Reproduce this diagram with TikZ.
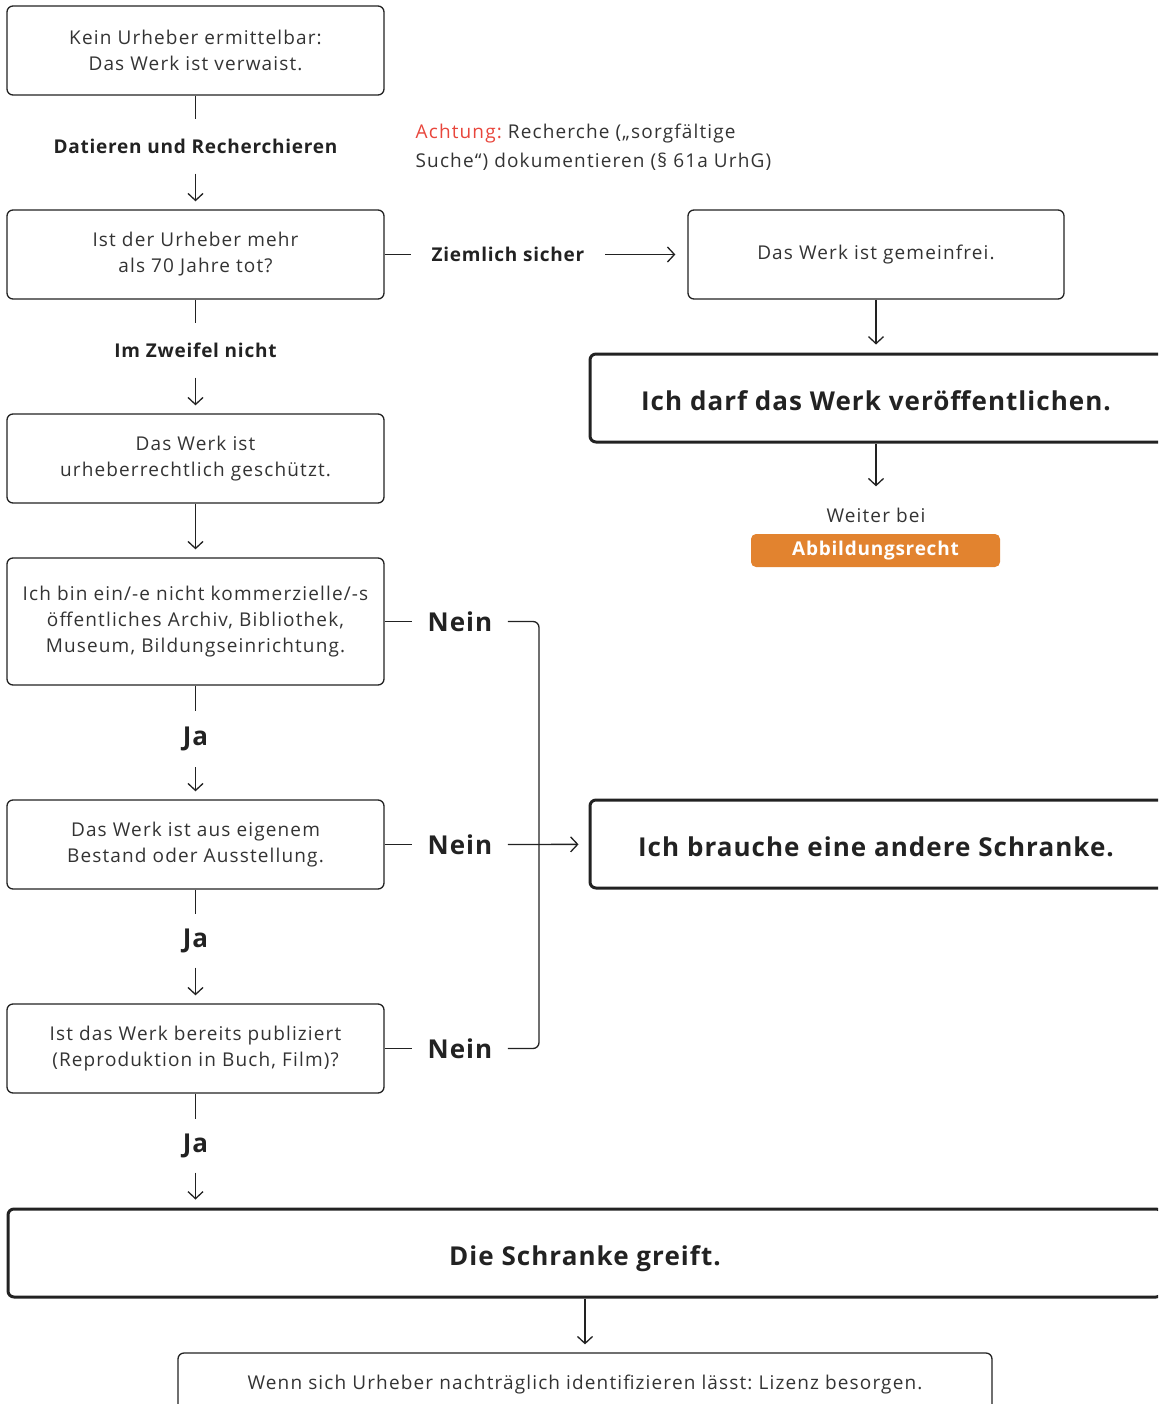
\documentclass[tikz,border=0pt]{standalone}
\usepackage{fontspec}
\setmainfont{Open Sans}[LetterSpace=6, BoldFeatures={LetterSpace=4}]
\frenchspacing
\usetikzlibrary{positioning,arrows.meta}
\definecolor{ink}{HTML}{222222}
\definecolor{txt}{HTML}{333333}
\definecolor{warn}{HTML}{E8463C}
\definecolor{btn}{HTML}{E2832F}
\begin{document}
\begin{tikzpicture}[x=1pt, y=-1pt, line width=1.3pt, draw=ink,
BoxStyle/.style={draw=ink, rounded corners=6pt, minimum width=377pt,
                minimum height=89pt, align=center, text=txt, inner sep=0pt,
                font=\fontsize{19}{26}\selectfont},
BigStyle/.style={draw=ink, rounded corners=6pt, line width=3pt,
                minimum height=88pt, text=ink, inner sep=0pt,
                text height=24pt, text depth=0pt,
                font=\fontsize{26}{32}\selectfont\bfseries},
LblStyle/.style={inner sep=0pt, text=ink, font=\fontsize{19}{24}\selectfont\bfseries},
JaStyle/.style={inner sep=0pt, text=ink, font=\fontsize{26}{32}\selectfont\bfseries},
ArrStyle/.style={-{Straight Barb[length=7pt, width=15pt]}, shorten >=8pt},]
\clip (0,0) rectangle (1158,1404);

\node [BoxStyle] (b1) at (195.5, 50.5) {Kein Urheber ermittelbar:\\Das Werk ist verwaist.};
\node [LblStyle, minimum height=53pt] (datieren) at (195.5, 146.5) {Datieren und Recherchieren};
\node [BoxStyle] (b2) at (195.5, 254.5) {Ist der Urheber mehr\\als 70 Jahre tot?};
\node [LblStyle, minimum height=53pt] (zweifel) at (195.5, 350.5) {Im Zweifel nicht};
\node [BoxStyle] (b3) at (195.5, 458.5) {Das Werk ist\\urheberrechtlich geschützt.};
\node [BoxStyle, minimum height=127pt] (b4) at (195.5, 621.5) {Ich bin ein/-e nicht kommerzielle/-s\\öffentliches Archiv, Bibliothek,\\Museum, Bildungseinrichtung.};
\node [JaStyle, minimum height=55pt] (ja1) at (195.5, 739) {Ja};
\node [BoxStyle] (b5) at (195.5, 844.5) {Das Werk ist aus eigenem\\Bestand oder Ausstellung.};
\node [JaStyle, minimum height=52pt] (ja2) at (195.5, 941) {Ja};
\node [BoxStyle] (b6) at (195.5, 1048.5) {Ist das Werk bereits publiziert\\(Reproduktion in Buch, Film)?};
\node [JaStyle, minimum height=52pt] (ja3) at (195.5, 1146) {Ja};

\node [LblStyle, inner xsep=20pt] (sicher) at (508, 254.5) {Ziemlich sicher};
\node [BoxStyle, minimum width=376pt] (frei) at (876, 254.5) {Das Werk ist gemeinfrei.};
\node [BigStyle, minimum width=580pt] (darf) at (880, 398) {\hspace*{-8pt}Ich darf das Werk veröffentlichen.};
\node [inner sep=0pt, text=txt, font=\fontsize{19}{24}\selectfont, minimum height=40pt] (weiter) at (876, 515) {Weiter bei};
\node [fill=btn, rounded corners=5pt, minimum width=249pt, minimum height=33pt, inner sep=0pt,
       text=white, font=\fontsize{19}{24}\selectfont\bfseries] (abb) at (875.5, 550.5) {Abbildungsrecht};
\node [anchor=west, align=left, inner sep=0pt, text=txt, font=\fontsize{19}{29}\selectfont] (achtung) at (415, 147.5)
      {\textcolor{warn}{Achtung:} Recherche („sorgfältige\\Suche“) dokumentieren (§ 61a UrhG)};

\node [JaStyle, inner xsep=15pt] (nein1) at (460, 621.5) {Nein};
\node [JaStyle, inner xsep=15pt] (nein2) at (460, 844.5) {Nein};
\node [JaStyle, inner xsep=15pt] (nein3) at (460, 1048.5) {Nein};
\coordinate (knick) at (539, 844.5);
\node [BigStyle, minimum width=580pt] (andere) at (880, 844) {\hspace*{-8pt}Ich brauche eine andere Schranke.};

\node [BigStyle, minimum width=1154pt] (greift) at (585, 1253) {Die Schranke greift.};
\node [BoxStyle, minimum width=814pt, minimum height=62pt] (lizenz) at (585, 1384)
      {Wenn sich Urheber nachträglich identifizieren lässt: Lizenz besorgen.};

\draw (b1)--(datieren);
\draw [ArrStyle] (datieren)--(b2);
\draw (b2)--(zweifel);
\draw [ArrStyle] (zweifel)--(b3);
\draw [ArrStyle] (b3)--(b4);
\draw (b4)--(ja1);
\draw [ArrStyle] (ja1)--(b5);
\draw (b5)--(ja2);
\draw [ArrStyle] (ja2)--(b6);
\draw (b6)--(ja3);
\draw [ArrStyle] (ja3)--(ja3 |- greift.north);
\draw [ArrStyle] (greift)--(lizenz);

\draw (b2)--(sicher);
\draw [ArrStyle, shorten >=12pt] (sicher)--(frei);
\draw [ArrStyle] (frei.south)--(frei.south |- darf.north);
\draw [ArrStyle] (darf.south -| weiter)--(weiter.north);

\draw (b4)--(nein1);
\draw (b5)--(nein2);
\draw (b6)--(nein3);
\draw [rounded corners=6pt] (nein1.east) -| (knick) |- (nein3.east);
\draw [ArrStyle, shorten >=10pt] (nein2)--(andere);
\end{tikzpicture}
\end{document}
